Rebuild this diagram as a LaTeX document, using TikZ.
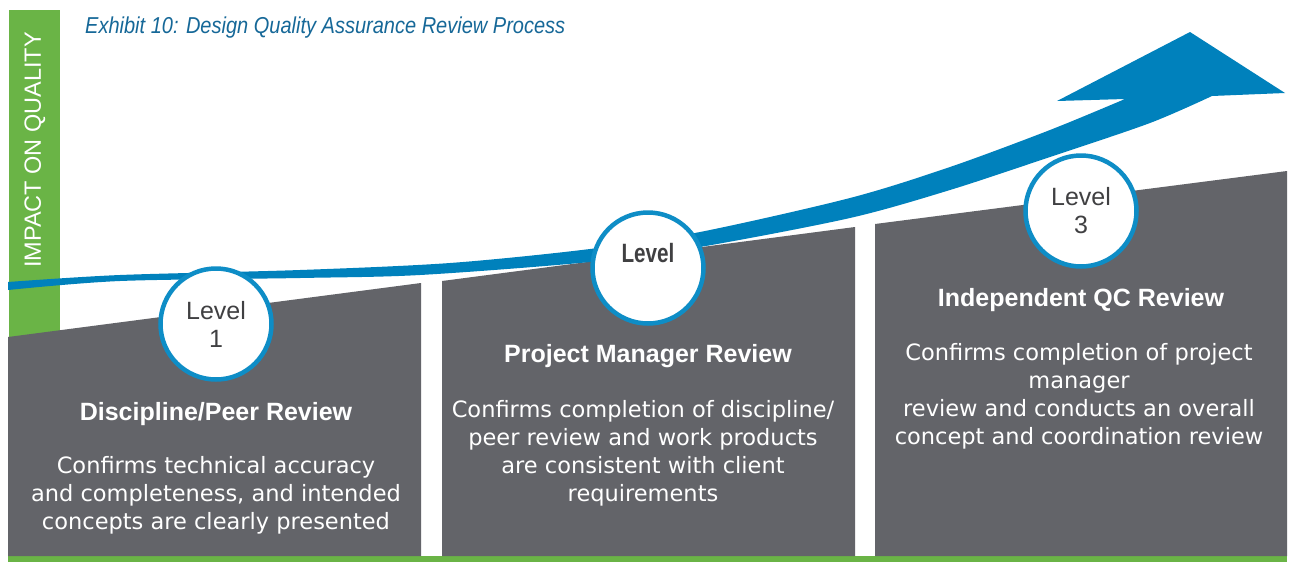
\documentclass[tikz,border=0pt]{standalone}
\usepackage{fontspec}
\setmainfont{Liberation Sans}
\newfontfamily\titlefont[FakeStretch=0.87]{Liberation Sans}
\newfontfamily\bodyfont{DejaVu Sans}
\newfontfamily\narrowbold[FakeStretch=0.78]{Liberation Sans}

\definecolor{qgreen}{RGB}{106,180,70}
\definecolor{panelgray}{RGB}{99,100,105}
\definecolor{arrowblue}{RGB}{0,129,188}
\definecolor{ringblue}{RGB}{14,141,198}
\definecolor{titleblue}{RGB}{22,104,152}
\definecolor{lvltext}{RGB}{64,64,66}

\tikzset{
  panelshape/.style={fill=panelgray},
  levelring/.style={circle, draw=ringblue, line width=4.5pt, fill=white,
    minimum size=111pt, inner sep=0pt, align=center, text=lvltext,
    font=\fontsize{25}{28}\selectfont},
  heading/.style={anchor=base, text=white, inner sep=0pt,
    font=\bfseries\fontsize{25}{28}\selectfont},
  % multi-line block: the base anchor sits on the last line
  bodytext/.style={anchor=base, text=white, inner sep=0pt, align=center,
    font=\bodyfont\fontsize{22.5}{28}\selectfont}
}

\begin{document}
\begin{tikzpicture}[x=1pt, y=-1pt]
\useasboundingbox (0,0) rectangle (1290,563);
\fill[white] (0,0) rectangle (1290,563);

% vertical axis band and bottom rule
\fill[qgreen] (9,10) rectangle (60,556);
\fill[qgreen] (8,556) rectangle (1287,562);
\node[rotate=90, text=white, inner sep=0pt,
      font=\fontsize{23.5}{26}\selectfont] (axis) at (35,150) {IMPACT ON QUALITY};

% title
\node[anchor=base west, inner sep=0pt, text=titleblue,
      font=\titlefont\itshape\fontsize{23}{26}\selectfont] (title) at (85,33)
  {Exhibit 10: Design Quality Assurance Review Process};

% the three stepped panels
\fill[panelshape] (8,337) -- (421,283) -- (421,556) -- (8,556) -- cycle;
\fill[panelshape] (442,281) -- (855,227) -- (855,556) -- (442,556) -- cycle;
\fill[panelshape] (875,224) -- (1287,171) -- (1287,556) -- (875,556) -- cycle;

% rising arrow
\fill[arrowblue]
  plot[smooth] coordinates {(8,282) (120,275) (300,270) (450,263) (590,249)
    (700,232) (850,198) (950,167) (1050,130) (1125,99)}
  -- (1057,101) -- (1190,32) -- (1285,93)
  -- plot[smooth] coordinates {(1212,96) (1150,123) (1050,157) (950,190)
    (850,218) (700,247) (590,262) (420,275) (300,278) (120,281) (8,290)}
  -- cycle;

% level badges
\node[levelring] (lvl1) at (216,324) {Level\\1};
\node[levelring] (lvl2) at (648,268) {};
\node[text=lvltext, inner sep=0pt,
      font=\narrowbold\bfseries\fontsize{26.5}{28}\selectfont] (lvl2t) at (648,253) {Level};
\node[levelring] (lvl3) at (1081,211) {Level\\3};

% panel texts
\node[heading] (h1) at (216,420) {Discipline/Peer Review};
\node[bodytext] (b1) at (216,529) {Confirms technical accuracy\\and completeness, and intended\\concepts are clearly presented};

\node[heading] (h2) at (648,362) {Project Manager Review};
\node[bodytext] (b2) at (643,501) {Confirms completion of discipline/\\peer review and work products\\are consistent with client\\requirements};

\node[heading] (h3) at (1081,306) {Independent QC Review};
\node[bodytext] (b3) at (1079,444) {Confirms completion of project\\manager\\review and conducts an overall\\concept and coordination review};
\end{tikzpicture}
\end{document}
